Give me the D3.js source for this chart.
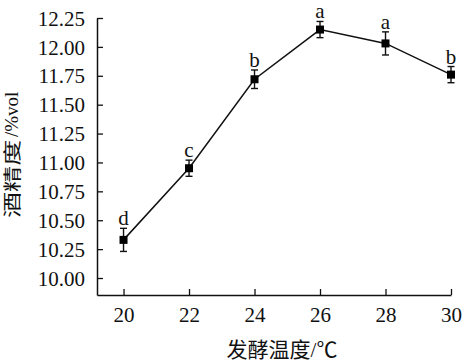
<!DOCTYPE html>
<html>
<head>
<meta charset="utf-8">
<script src="https://cdn.jsdelivr.net/npm/d3@7"></script>
<style>
  html, body { margin: 0; padding: 0; background: #fff; }
  svg { display: block; }
  text { font-family: "Liberation Serif", "Noto Sans CJK SC", serif; fill: #111; }
</style>
</head>
<body>
<svg id="chart"></svg>
<script>
// ===== DATA =====
const temps = [20, 22, 24, 26, 28, 30];
const alcohol = [10.33, 10.95, 11.72, 12.15, 12.03, 11.76];
const errors = [0.10, 0.07, 0.08, 0.07, 0.10, 0.07];
const letters = ['d', 'c', 'b', 'a', 'a', 'b'];
const yTicks = [10.00, 10.25, 10.50, 10.75, 11.00, 11.25, 11.50, 11.75, 12.00, 12.25];
const xTicks = [20, 22, 24, 26, 28, 30];
const xLabel = '发酵温度/℃';
const yLabelCjk = '酒精度';
const yLabelUnit = '/%vol';

// ===== LAYOUT =====
const width = 462, height = 364;
const margin = { top: 18, right: 11, bottom: 69, left: 97 };
const innerW = width - margin.left - margin.right;
const innerH = height - margin.top - margin.bottom;

const svg = d3.select('#chart')
    .attr('width', width)
    .attr('height', height);

const g = svg.append('g')
    .attr('transform', `translate(${margin.left},${margin.top})`);

// scales
const x = d3.scaleLinear()
    .domain([19.19, 30])
    .range([0, innerW]);

const y = d3.scaleLinear()
    .domain([9.853, 12.25])
    .range([innerH, 0]);

// axes (ticks point inward)
const xAxis = g.append('g')
    .attr('transform', `translate(0,${innerH})`)
    .call(d3.axisBottom(x).tickValues(xTicks).tickSize(-6).tickSizeOuter(0).tickPadding(12).tickFormat(d3.format('d')));

const yAxis = g.append('g')
    .call(d3.axisLeft(y).tickValues(yTicks).tickSize(-6).tickSizeOuter(0).tickPadding(12).tickFormat(d3.format('.2f')));

[xAxis, yAxis].forEach(ax => {
    ax.select('.domain').attr('stroke', '#111').attr('stroke-width', 1.5);
    ax.selectAll('.tick line').attr('stroke', '#111').attr('stroke-width', 1.3);
    ax.selectAll('.tick text')
        .attr('fill', '#111')
        .style('font-size', '21px')
        .style('font-family', '"Liberation Serif", serif');
});
xAxis.selectAll('.tick text').attr('dy', '0.71em');
yAxis.selectAll('.tick text').attr('dy', '0.34em');

// line
const points = temps.map((t, i) => ({ t, v: alcohol[i], e: errors[i], l: letters[i] }));

g.append('path')
    .datum(points)
    .attr('fill', 'none')
    .attr('stroke', '#111')
    .attr('stroke-width', 1.5)
    .attr('d', d3.line().x(d => x(d.t)).y(d => y(d.v)));

// error bars
const eb = g.selectAll('.err')
    .data(points)
    .enter().append('g')
    .attr('class', 'err')
    .attr('stroke', '#111')
    .attr('stroke-width', 1.4);

eb.append('line')
    .attr('x1', d => x(d.t)).attr('x2', d => x(d.t))
    .attr('y1', d => y(d.v + d.e)).attr('y2', d => y(d.v - d.e));
eb.append('line')
    .attr('x1', d => x(d.t) - 3.5).attr('x2', d => x(d.t) + 3.5)
    .attr('y1', d => y(d.v + d.e)).attr('y2', d => y(d.v + d.e));
eb.append('line')
    .attr('x1', d => x(d.t) - 3.5).attr('x2', d => x(d.t) + 3.5)
    .attr('y1', d => y(d.v - d.e)).attr('y2', d => y(d.v - d.e));

// markers
g.selectAll('.marker')
    .data(points)
    .enter().append('rect')
    .attr('class', 'marker')
    .attr('x', d => x(d.t) - 4)
    .attr('y', d => y(d.v) - 4)
    .attr('width', 8)
    .attr('height', 8)
    .attr('fill', '#000');

// significance letters
g.selectAll('.sig')
    .data(points)
    .enter().append('text')
    .attr('class', 'sig')
    .attr('x', d => x(d.t))
    .attr('y', d => y(d.v + d.e) - 3)
    .attr('text-anchor', 'middle')
    .style('font-size', '21px')
    .text(d => d.l);

// axis titles
svg.append('text')
    .attr('x', 282)
    .attr('y', 357)
    .attr('text-anchor', 'middle')
    .style('font-size', '21px')
    .text(xLabel);

// y title: CJK part is drawn stretched along its length, unit part plain
svg.append('text')
    .attr('transform', 'translate(19,218) rotate(-90) scale(1.45,1)')
    .attr('text-anchor', 'start')
    .style('font-size', '18px')
    .text(yLabelCjk);
svg.append('text')
    .attr('transform', 'translate(18,137) rotate(-90)')
    .attr('text-anchor', 'start')
    .style('font-size', '19px')
    .text(yLabelUnit);
</script>
</body>
</html>
